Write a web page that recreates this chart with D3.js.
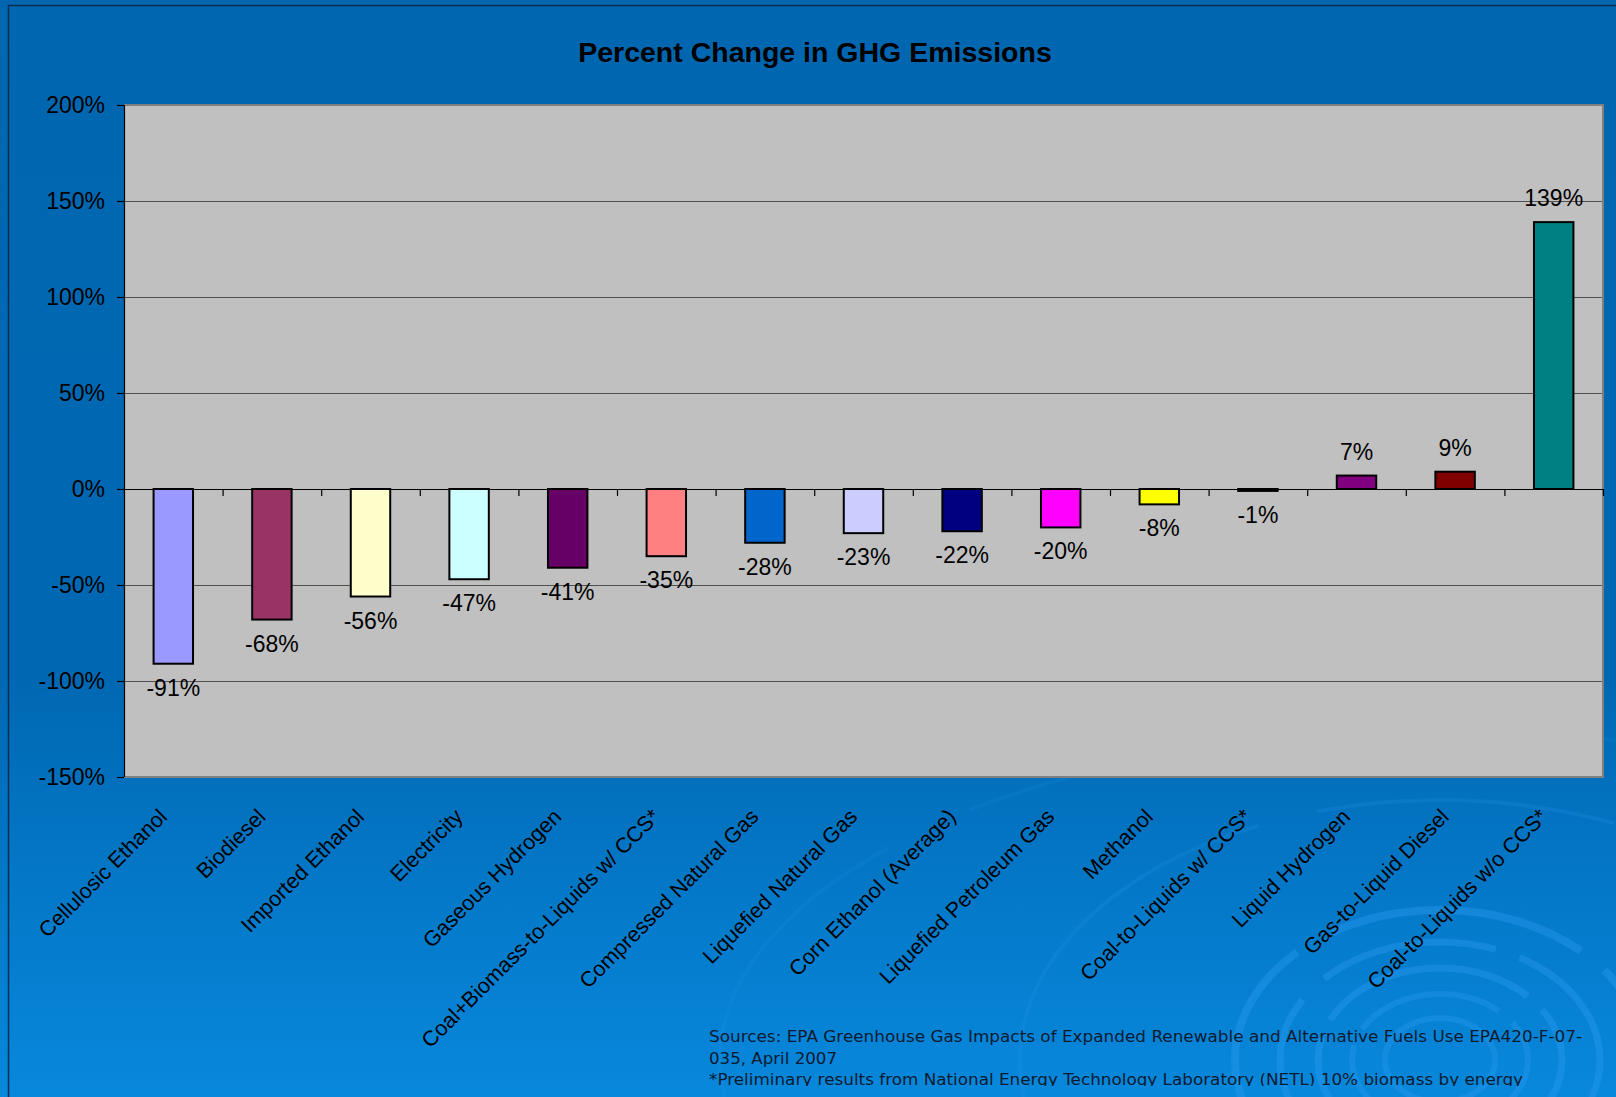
<!DOCTYPE html>
<html>
<head>
<meta charset="utf-8">
<script src="https://cdn.jsdelivr.net/npm/d3@7"></script>
<style>
  html, body { margin: 0; padding: 0; background: #0066B0; overflow: hidden; }
  svg { display: block; }
</style>
</head>
<body>
<svg id="chart" width="1616" height="1097"></svg>
<script>
// ---------- data ----------
const categories = [
  "Cellulosic Ethanol", "Biodiesel", "Imported Ethanol", "Electricity",
  "Gaseous Hydrogen", "Coal+Biomass-to-Liquids w/ CCS*", "Compressed Natural Gas",
  "Liquefied Natural Gas", "Corn Ethanol (Average)", "Liquefied Petroleum Gas",
  "Methanol", "Coal-to-Liquids w/ CCS*", "Liquid Hydrogen", "Gas-to-Liquid Diesel",
  "Coal-to-Liquids w/o CCS*"
];
const values = [-91, -68, -56, -47, -41, -35, -28, -23, -22, -20, -8, -1, 7, 9, 139];
const barColors = [
  "#9999FF", "#993366", "#FFFFCC", "#CCFFFF", "#660066", "#FF8080", "#0066CC",
  "#CCCCFF", "#000080", "#FF00FF", "#FFFF00", "#00FFFF", "#800080", "#800000", "#008080"
];
const yTickValues = [-150, -100, -50, 0, 50, 100, 150, 200];
const title = "Percent Change in GHG Emissions";
const footerLines = [
  "Sources: EPA Greenhouse Gas Impacts of Expanded Renewable and Alternative Fuels Use EPA420-F-07-",
  "035, April 2007",
  "*Preliminary results from National Energy Technology Laboratory (NETL) 10% biomass by energy"
];
const footerWidths = [873, 128, 814];

// ---------- layout ----------
const W = 1616, H = 1097;
const plot = { left: 124, right: 1603, top: 105, bottom: 777 };
const svg = d3.select("#chart");
const defs = svg.append("defs");

// background gradient
const bg = defs.append("linearGradient").attr("id", "bg").attr("x1", 0).attr("y1", 0).attr("x2", 0).attr("y2", 1);
bg.append("stop").attr("offset", "0%").attr("stop-color", "#0066B0");
bg.append("stop").attr("offset", "62%").attr("stop-color", "#0068B3");
bg.append("stop").attr("offset", "100%").attr("stop-color", "#0888DC");
svg.append("rect").attr("width", W).attr("height", H).attr("fill", "url(#bg)");

// decorative rings (bottom right)
const deco = svg.append("g").attr("fill", "none").attr("stroke", "#2A9BF0");
const rings = [
  { rx: 205, ry: 150, w: 8, o: 0.4, dash: "260 30 400 40" },
  { rx: 160, ry: 118, w: 7, o: 0.4, dash: "180 25 300 30" },
  { rx: 122, ry: 92, w: 7, o: 0.4, dash: "220 20 120 20" },
  { rx: 88, ry: 66, w: 6, o: 0.35, dash: "150 18 90 18" },
  { rx: 55, ry: 42, w: 6, o: 0.35, dash: "" },
  { rx: 420, ry: 260, w: 4, o: 0.18, dash: "500 60 300 80" },
  { rx: 720, ry: 330, w: 4, o: 0.12, dash: "700 90 400 100" }
];
deco.selectAll("ellipse").data(rings).join("ellipse")
  .attr("cx", 1440).attr("cy", 1060)
  .attr("rx", d => d.rx).attr("ry", d => d.ry)
  .attr("stroke-width", d => d.w).attr("stroke-opacity", d => d.o)
  .attr("stroke-dasharray", d => d.dash || null);

// outer frame line
svg.append("path")
  .attr("d", `M8.5,${H + 5} L8.5,5.5 L${W + 5},5.5`)
  .attr("fill", "none").attr("stroke", "#0B2D52").attr("stroke-width", 1.5);

// title
svg.append("text")
  .attr("x", 815).attr("y", 62)
  .attr("text-anchor", "middle")
  .attr("font-family", "Liberation Sans, Arial, sans-serif")
  .attr("font-weight", "bold").attr("font-size", 28.5)
  .attr("fill", "#000").text(title);

// scales
const x = d3.scaleBand().domain(categories)
  .range([plot.left, plot.right]).paddingInner(0.6).paddingOuter(0.3);
const y = d3.scaleLinear().domain([-150, 200]).range([plot.bottom, plot.top]);
const xBound = d3.scaleLinear().domain([0, categories.length]).range([plot.left, plot.right]);

// plot area
svg.append("rect")
  .attr("x", plot.left).attr("y", plot.top)
  .attr("width", plot.right - plot.left).attr("height", plot.bottom - plot.top)
  .attr("fill", "#C0C0C0");

// gridlines
const grid = svg.append("g").attr("transform", `translate(${plot.left},0)`)
  .call(d3.axisLeft(y).tickValues(yTickValues.filter(v => v !== 0 && v !== 200 && v !== -150))
    .tickSize(-(plot.right - plot.left)).tickFormat(""));
grid.select(".domain").remove();
grid.selectAll("line").attr("stroke", "#505050").attr("stroke-width", 1).attr("shape-rendering", "crispEdges");

// plot border (top, right, bottom) in gray
svg.append("path")
  .attr("d", `M${plot.left},${plot.top} L${plot.right},${plot.top} L${plot.right},${plot.bottom} L${plot.left},${plot.bottom}`)
  .attr("fill", "none").attr("stroke", "#808080").attr("stroke-width", 2);

// bars
svg.append("g").selectAll("rect").data(values).join("rect")
  .attr("x", (d, i) => x(categories[i]))
  .attr("y", d => y(Math.max(0, d)))
  .attr("width", x.bandwidth())
  .attr("height", d => Math.abs(y(d) - y(0)))
  .attr("fill", (d, i) => barColors[i])
  .attr("stroke", "#000").attr("stroke-width", 2);

// zero line + category ticks
const xAxis = svg.append("g").attr("transform", `translate(0,${y(0)})`)
  .call(d3.axisBottom(xBound).tickValues(d3.range(1, categories.length + 1)).tickSize(7).tickFormat(""));
xAxis.select(".domain").attr("d", `M${plot.left},0.5H${plot.right}`).attr("stroke", "#000").attr("stroke-width", 1.2);
xAxis.selectAll(".tick line").attr("stroke", "#000").attr("stroke-width", 1.2);

// y axis
const yAxis = svg.append("g").attr("transform", `translate(${plot.left},0)`)
  .call(d3.axisLeft(y).tickValues(yTickValues).tickSize(7).tickPadding(12).tickFormat(d => d + "%"));
yAxis.select(".domain").attr("d", `M0.5,${plot.top}V${plot.bottom}`).attr("stroke", "#000").attr("stroke-width", 1.2);
yAxis.selectAll(".tick line").attr("stroke", "#000").attr("stroke-width", 1.2);
yAxis.selectAll(".tick text")
  .attr("font-family", "Liberation Sans, Arial, sans-serif").attr("font-size", 23)
  .attr("fill", "#000").attr("dy", "0.34em");

// data labels
svg.append("g").selectAll("text").data(values).join("text")
  .attr("x", (d, i) => x(categories[i]) + x.bandwidth() / 2)
  .attr("y", d => d >= 0 ? y(d) - 16 : y(d) + 32)
  .attr("text-anchor", "middle")
  .attr("font-family", "Liberation Sans, Arial, sans-serif").attr("font-size", 23)
  .attr("fill", "#000")
  .text(d => d + "%");

// category labels (rotated)
svg.append("g").selectAll("text").data(categories).join("text")
  .attr("transform", d => `translate(${x(d) + x.bandwidth() / 2 - 5},818) rotate(-45)`)
  .attr("text-anchor", "end")
  .attr("font-family", "Liberation Sans, Arial, sans-serif").attr("font-size", 21.5)
  .attr("fill", "#000")
  .text(d => d);

// footer
defs.append("clipPath").attr("id", "footclip")
  .append("rect").attr("x", 0).attr("y", 1000).attr("width", W).attr("height", 86);
svg.append("g").attr("clip-path", "url(#footclip)")
  .selectAll("text").data(footerLines).join("text")
  .attr("x", 709).attr("y", (d, i) => 1042 + i * 21.5)
  .attr("font-family", "DejaVu Sans, Verdana, sans-serif").attr("font-size", 16)
  .attr("fill", "#0A1A30")
  .attr("textLength", (d, i) => footerWidths[i])
  .attr("lengthAdjust", "spacingAndGlyphs")
  .text(d => d);
</script>
</body>
</html>
